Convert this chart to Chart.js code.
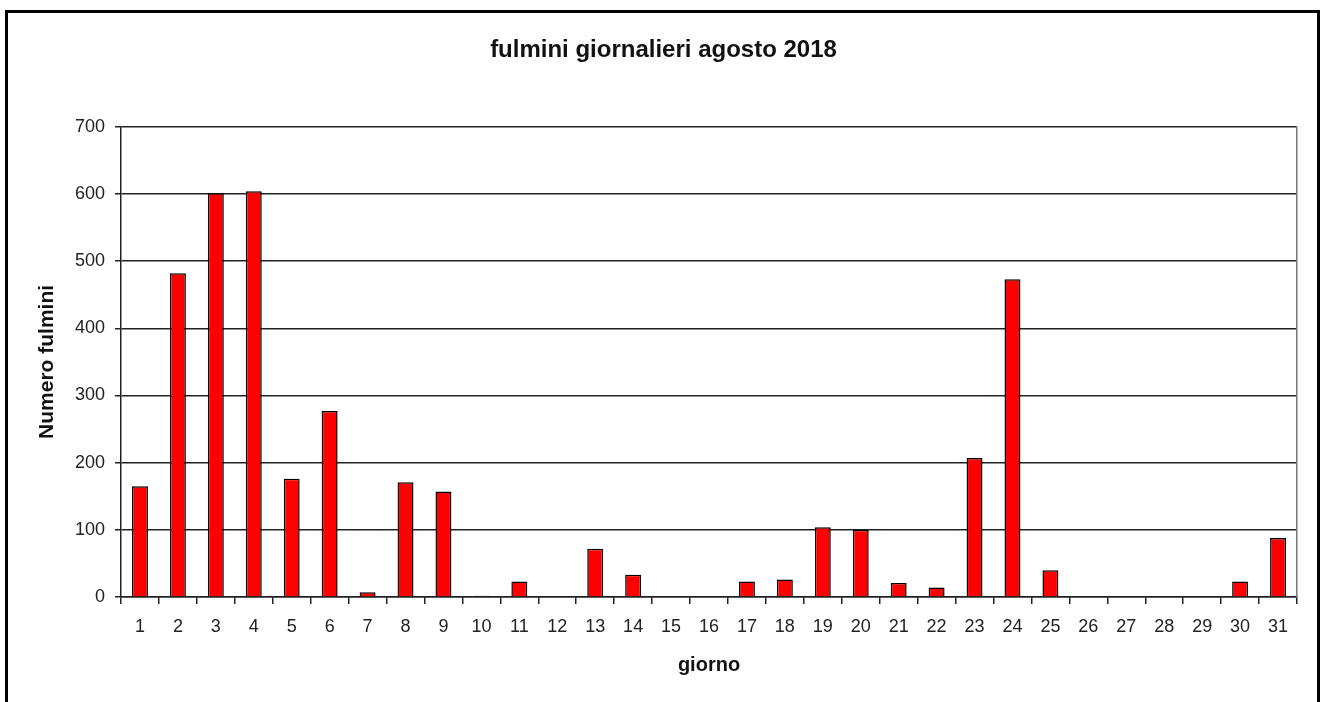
<!DOCTYPE html>
<html>
<head>
<meta charset="utf-8">
<script src="https://cdn.jsdelivr.net/npm/chart.js@4/dist/chart.umd.min.js"></script>
<style>
  html, body { margin: 0; padding: 0; background: #fff; overflow: hidden; }
  #wrap { position: relative; width: 1327px; height: 702px; }
  #frame {
    position: absolute; left: 5px; top: 10px; width: 1309px; height: 720px;
    border: 3px solid #000; pointer-events: none;
  }
</style>
</head>
<body>
<div id="wrap">
  <canvas id="chart" width="1327" height="702"></canvas>
  <div id="frame"></div>
</div>
<script>
// giorni di agosto 2018
const giorni = ['1','2','3','4','5','6','7','8','9','10','11','12','13','14','15','16',
  '17','18','19','20','21','22','23','24','25','26','27','28','29','30','31'];

// numero fulmini per giorno
const fulmini = [165, 482, 601, 604, 176, 277, 7, 171, 157, 2, 23, 0, 72, 33, 0, 0,
  23, 26, 104, 100, 21, 14, 207, 473, 40, 0, 0, 0, 0, 23, 88];

const yMin = 0;
const yMax = 700;
const yStep = 100;

const FONT = "'Liberation Sans', Arial, sans-serif";

const chart = new Chart(document.getElementById('chart'), {
  type: 'bar',
  data: {
    labels: giorni,
    datasets: [{
      label: 'fulmini',
      data: fulmini,
      backgroundColor: '#ff0000',
      borderColor: '#000',
      borderWidth: 1.5,
      barPercentage: 0.42,
      categoryPercentage: 1
    }]
  },
  options: {
    responsive: false,
    animation: false,
    layout: { padding: 0 },
    plugins: {
      legend: { display: false },
      tooltip: { enabled: false },
      title: {
        display: true,
        text: 'fulmini giornalieri agosto 2018',
        color: '#111',
        font: { family: FONT, size: 24, weight: 'bold' },
        padding: { top: 36, bottom: 62 }
      }
    },
    scales: {
      x: {
        afterFit: s => { s.height = 105; },
        grid: {
          offset: true,
          drawOnChartArea: false,
          drawTicks: true,
          tickLength: 7,
          color: '#222',
          lineWidth: 1.5
        },
        border: { color: '#222', width: 1.5 },
        ticks: {
          color: '#222',
          font: { family: FONT, size: 18 },
          padding: 12,
          maxRotation: 0,
          autoSkip: false
        },
        title: {
          display: true,
          text: 'giorno',
          color: '#111',
          font: { family: FONT, size: 20, weight: 'bold' },
          padding: { top: 0, bottom: 25 }
        }
      },
      y: {
        min: yMin,
        max: yMax,
        afterFit: s => { s.width = 121; },
        grid: {
          color: '#222',
          lineWidth: 1.5,
          drawTicks: true,
          tickLength: 6
        },
        border: { color: '#222', width: 1.5 },
        ticks: {
          stepSize: yStep,
          color: '#222',
          font: { family: FONT, size: 18 },
          padding: 10
        },
        title: {
          display: true,
          text: 'Numero fulmini',
          color: '#111',
          font: { family: FONT, size: 21, weight: 'bold' },
          padding: { top: 35, bottom: 0 }
        }
      },
      y2: {
        position: 'right',
        min: yMin,
        max: yMax,
        afterFit: s => { s.width = 30; },
        grid: { display: false, drawTicks: false },
        border: { color: '#777', width: 1.5 },
        ticks: { display: false }
      }
    }
  }
});
</script>
</body>
</html>
